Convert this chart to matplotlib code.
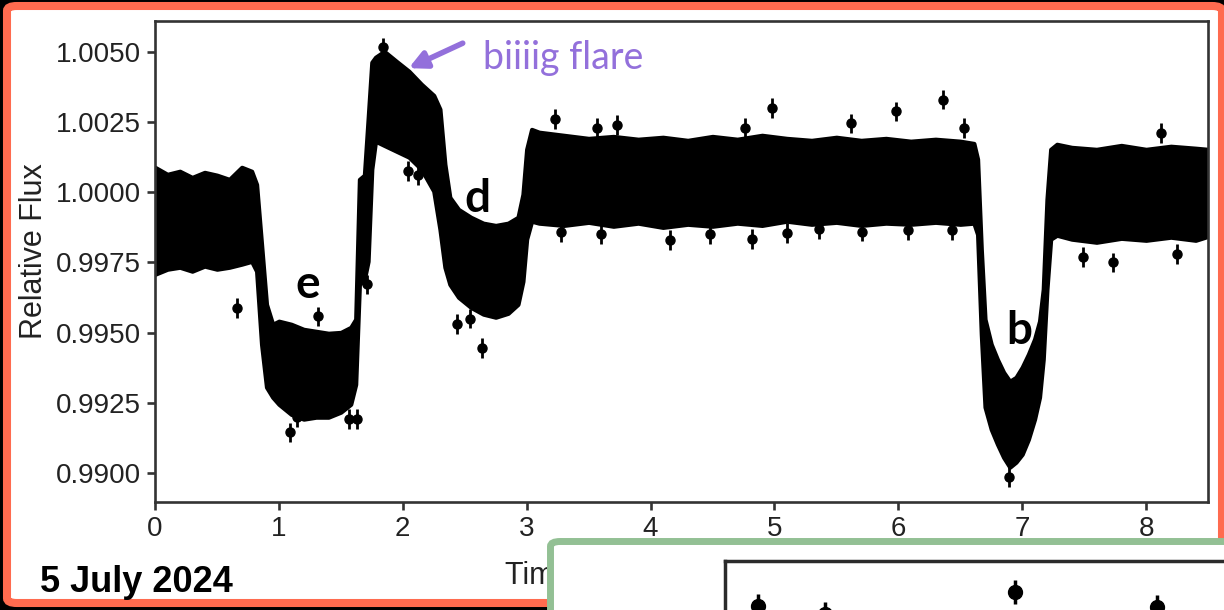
import matplotlib
matplotlib.use('Agg')
import matplotlib.pyplot as plt
from matplotlib.patches import FancyBboxPatch
from matplotlib.ticker import FormatStrFormatter

# light curve band (upper / lower edge of the dense points)
band_t = [0.00, 0.10, 0.20, 0.30, 0.40, 0.50, 0.60, 0.70, 0.78, 0.82, 0.86, 0.90, 0.95,
          1.00, 1.10, 1.20, 1.30, 1.40, 1.50, 1.58, 1.62, 1.65, 1.69, 1.72, 1.75, 1.78,
          1.85, 1.95, 2.05, 2.15, 2.25, 2.30, 2.34, 2.38, 2.45, 2.55, 2.65, 2.75, 2.85,
          2.93, 2.97, 3.00, 3.04, 3.10, 3.30, 3.50, 3.70, 3.90, 4.10, 4.30, 4.50, 4.70,
          4.90, 5.10, 5.30, 5.50, 5.70, 5.90, 6.10, 6.30, 6.50, 6.61, 6.64, 6.67, 6.70,
          6.75, 6.80, 6.85, 6.90, 6.95, 7.00, 7.05, 7.10, 7.14, 7.17, 7.20, 7.23, 7.28,
          7.40, 7.60, 7.80, 8.00, 8.20, 8.40, 8.50]
band_hi = [1.00089, 1.00064, 1.00075, 1.00053, 1.00071, 1.00061, 1.00046, 1.00089, 1.00075,
           1.00028, 0.99815, 0.99601, 0.99530, 0.99541, 0.99530, 0.99512, 0.99505, 0.99498,
           0.99501, 0.99519, 0.99548, 1.00046, 1.00061, 1.00260, 1.00463, 1.00481, 1.00502,
           1.00466, 1.00431, 1.00385, 1.00345, 1.00296, 1.00100, 0.99982, 0.99939, 0.99911,
           0.99890, 0.99882, 0.99890, 0.99911, 0.99993, 1.00153, 1.00224, 1.00214, 1.00203,
           1.00192, 1.00199, 1.00189, 1.00196, 1.00185, 1.00199, 1.00189, 1.00203, 1.00192,
           1.00185, 1.00196, 1.00185, 1.00192, 1.00182, 1.00189, 1.00182, 1.00174, 1.00118,
           0.99797, 0.99548, 0.99459, 0.99405, 0.99359, 0.99327, 0.99341, 0.99377, 0.99423,
           0.99477, 0.99541, 0.99655, 0.99975, 1.00153, 1.00171, 1.00160, 1.00153, 1.00167,
           1.00153, 1.00164, 1.00157, 1.00153]
band_lo = [0.99708, 0.99726, 0.99733, 0.99719, 0.99737, 0.99726, 0.99733, 0.99744, 0.99754,
           0.99719, 0.99459, 0.99306, 0.99270, 0.99245, 0.99209, 0.99192, 0.99199, 0.99199,
           0.99217, 0.99245, 0.99316, 0.99672, 0.99690, 0.99754, 1.00082, 1.00182, 1.00167,
           1.00146, 1.00125, 1.00082, 1.00004, 0.99868, 0.99733, 0.99672, 0.99626, 0.99590,
           0.99566, 0.99555, 0.99569, 0.99601, 0.99683, 0.99833, 0.99897, 0.99890, 0.99882,
           0.99893, 0.99879, 0.99890, 0.99875, 0.99886, 0.99879, 0.99890, 0.99882, 0.99897,
           0.99886, 0.99893, 0.99882, 0.99890, 0.99886, 0.99893, 0.99886, 0.99890, 0.99850,
           0.99494, 0.99235, 0.99156, 0.99103, 0.99056, 0.99021, 0.99039, 0.99067, 0.99120,
           0.99192, 0.99270, 0.99405, 0.99655, 0.99833, 0.99847, 0.99833, 0.99822, 0.99836,
           0.99829, 0.99840, 0.99829, 0.99843]

# isolated points sticking out of the band
out_t = [0.66, 1.09, 1.145, 1.315, 1.57, 1.63, 1.71, 1.84, 2.04, 2.12, 2.40, 2.44, 2.54,
         2.64, 2.66, 2.84, 3.23, 3.28, 3.57, 3.60, 3.73, 4.16, 4.48, 4.76, 4.82, 4.98,
         5.10, 5.36, 5.62, 5.71, 5.98, 6.08, 6.36, 6.43, 6.53, 6.89, 7.49, 7.73, 8.12, 8.25]
out_f = [0.99587, 0.99145, 0.99200, 0.99558, 0.99192, 0.99192, 0.99672, 1.00516, 1.00075,
         1.00060, 0.99932, 0.99530, 0.99550, 0.99445, 0.99858, 0.99850, 1.00260, 0.99858,
         1.00230, 0.99850, 1.00240, 0.99830, 0.99850, 1.00230, 0.99833, 1.00300, 0.99854,
         0.99870, 1.00245, 0.99860, 1.00288, 0.99865, 1.00330, 0.99865, 1.00230, 0.98985,
         0.99769, 0.99750, 1.00210, 0.99780]
out_err = 0.00035

y_ticks = [0.9900, 0.9925, 0.9950, 0.9975, 1.0000, 1.0025, 1.0050]
x_ticks = [0, 1, 2, 3, 4, 5, 6, 7, 8]

# second panel peeking in at the bottom right
inset_x = [0.055, 0.167, 0.484, 0.721]
inset_y = [0.775, 0.735, 0.845, 0.770]

W, H = 1224, 610
ORANGE = '#FF6B4F'
GREEN = '#93C094'
PURPLE = '#9370DB'
SPINE = '#333333'

fig = plt.figure(figsize=(W / 100, H / 100), dpi=100, facecolor='black')

# orange frame
frame = FancyBboxPatch((7 / W, 7 / H), (1222 - 7) / W, (604 - 7) / H,
                       boxstyle='round,pad=0,rounding_size=0.008',
                       transform=fig.transFigure, facecolor='white',
                       edgecolor=ORANGE, linewidth=5.8, zorder=0)
fig.patches.append(frame)

ax = fig.add_axes([155 / W, (H - 502) / H, (1208 - 155) / W, (502 - 21) / H], zorder=1)
ax.patch.set_alpha(0)
ax.fill_between(band_t, band_lo, band_hi, facecolor='black', edgecolor='black',
                linewidth=3, joinstyle='round', zorder=2)
ax.errorbar(out_t, out_f, yerr=out_err, fmt='o', color='black', ms=6.5,
            elinewidth=2, capsize=0, zorder=3)

ax.set_xlim(0, 8.5)
ax.set_ylim(0.98897, 1.00610)
ax.set_xticks(x_ticks)
ax.set_yticks(y_ticks)
ax.yaxis.set_major_formatter(FormatStrFormatter('%.4f'))
for s in ax.spines.values():
    s.set_linewidth(1.9)
    s.set_color(SPINE)
ax.tick_params(direction='out', length=6, width=1.9, color=SPINE, pad=4,
               labelsize=20, labelcolor='#222222')
for lab in ax.get_xticklabels() + ax.get_yticklabels():
    lab.set_fontfamily('Liberation Sans')

ax.set_ylabel('Relative Flux', fontsize=22, color='#222222', family='Liberation Sans')
ax.yaxis.set_label_coords(-0.101, 0.522)
xl = ax.set_xlabel('Time (days)', fontsize=22, color='#222222', family='Liberation Sans')
xl.set_horizontalalignment('left')
ax.xaxis.set_label_coords(0.332, -0.122)

# transit labels
ax.text(1.234, 0.99622, 'e', fontsize=33, fontweight='bold', family='Lato',
        ha='center', va='baseline', zorder=4)
ax.text(2.605, 0.99930, 'd', fontsize=33, fontweight='bold', family='Lato',
        ha='center', va='baseline', zorder=4)
ax.text(6.975, 0.99459, 'b', fontsize=33, fontweight='bold', family='Lato',
        ha='center', va='baseline', zorder=4)

# flare note
ax.text(2.645, 1.00438, 'biiiig flare', fontsize=27, color=PURPLE, family='Lato',
        ha='left', va='baseline')
ax.annotate('', xy=(2.048, 1.00442), xytext=(2.484, 1.00531),
            arrowprops=dict(arrowstyle='-|>', color=PURPLE, lw=4, mutation_scale=26,
                            shrinkA=0, shrinkB=0))

fig.text(40 / W, 18 / H, '5 July 2024', fontsize=26, fontweight='bold',
         family='Liberation Sans', color='black', ha='left', va='baseline')

# green inset box covering the lower right corner
inset_box = FancyBboxPatch((550.5 / W, -40 / H), 800 / W, (68.5 + 40) / H,
                           boxstyle='round,pad=0,rounding_size=0.008',
                           transform=fig.transFigure, facecolor='white',
                           edgecolor=GREEN, linewidth=5.0, zorder=5)
fig.patches.append(inset_box)

iax = fig.add_axes([725 / W, (H - 761) / H, 599 / W, 200 / H], zorder=6)
iax.patch.set_alpha(0)
iax.errorbar(inset_x, inset_y, yerr=0.06, fmt='o', color='black', ms=10,
             elinewidth=2.5, capsize=0)
iax.set_xlim(0, 1)
iax.set_ylim(0, 1)
iax.set_xticks([])
iax.set_yticks([])
for k, s in iax.spines.items():
    s.set_linewidth(2.5)
    s.set_color('#2b2b2b')
    if k in ('right', 'bottom'):
        s.set_visible(False)

fig.savefig('out.png', dpi=100, facecolor='black')
